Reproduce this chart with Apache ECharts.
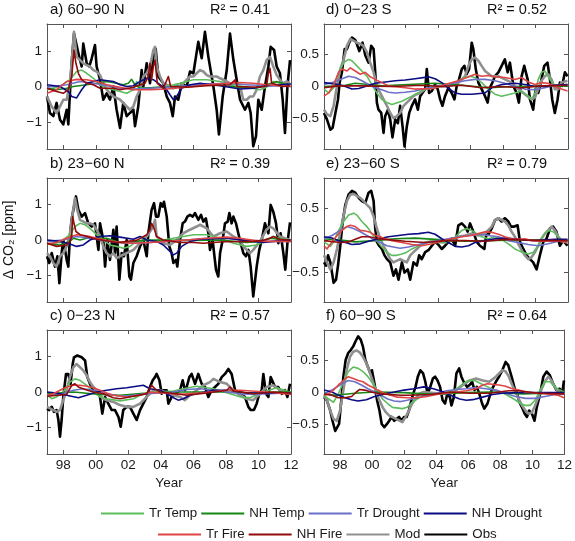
<!DOCTYPE html>
<html><head><meta charset="utf-8">
<script src="https://cdn.jsdelivr.net/npm/echarts@6.0.0/dist/echarts.min.js"></script>
<style>html,body{margin:0;padding:0;background:#fff}#c{width:575px;height:541px}</style>
</head><body><div id="c"></div>
<script>
// ---------- labels ----------
const seriesNames = ['Tr Temp','NH Temp','Tr Drought','NH Drought','Tr Fire','NH Fire','Mod','Obs'];
const panelTitles = ['a) 60\u221290 N','b) 23\u221260 N','c) 0\u221223 N','d) 0\u221223 S','e) 23\u221260 S','f) 60\u221290 S'];
const panelR2 = ['0.41','0.39','0.57','0.52','0.79','0.64'];
const xTicks = [1998,2000,2002,2004,2006,2008,2010,2012];
const leftYTicks = [-1,0,1];
const rightYTicks = [-0.5,0,0.5];

// ---------- panel a) 60-90 N ----------
const aObs = [[1997,-0.28],[1997.18,-0.74],[1997.39,-0.83],[1997.59,-0.46],[1997.8,-0.93],[1998,-1.06],[1998.21,-0.65],[1998.31,-1.06],[1998.41,-0.19],[1998.52,0.69],[1998.66,1.48],[1998.93,0.93],[1999.13,0.56],[1999.23,1.2],[1999.44,0.65],[1999.6,0.56],[1999.75,0.79],[1999.95,1.16],[2000.05,0.56],[2000.26,0.19],[2000.46,-0.37],[2000.67,-0.19],[2000.87,-0.37],[2001.08,0],[2001.28,-0.65],[2001.49,-1.16],[2001.69,-0.46],[2001.9,-0.83],[2002.1,-0.74],[2002.31,-0.65],[2002.41,-1.11],[2002.61,-0.56],[2002.82,0.46],[2002.92,0],[2003.13,0.65],[2003.33,0.09],[2003.54,0.83],[2003.68,1.06],[2003.84,0.28],[2004.15,0.09],[2004.36,-0.28],[2004.56,-0.46],[2004.73,-0.83],[2004.87,-0.28],[2005.07,-0.37],[2005.28,0.09],[2005.59,0],[2005.79,0.42],[2006,0.37],[2006.3,1.25],[2006.51,0.79],[2006.71,1.53],[2006.92,0.83],[2007.23,0],[2007.43,-0.65],[2007.57,-1.34],[2007.8,-0.28],[2008.05,0.46],[2008.25,1.48],[2008.46,0.74],[2008.66,0.19],[2008.87,-0.37],[2009.17,-0.65],[2009.38,-0.46],[2009.52,-0.74],[2009.68,-1.67],[2009.85,-1.39],[2009.99,-0.37],[2010.2,-0.65],[2010.4,0],[2010.61,0.56],[2010.75,1.11],[2010.96,1.02],[2011.12,0.56],[2011.32,0.37],[2011.49,-0.37],[2011.63,-1.3],[2011.78,0],[2011.94,0.74]];
const aMod = [[1997,-0.28],[1997.29,-0.56],[1997.59,-0.74],[1997.8,-0.56],[1998,-0.37],[1998.21,-0.37],[1998.41,0.09],[1998.58,1.02],[1998.66,1.53],[1998.82,0.83],[1999.03,0.74],[1999.23,0.65],[1999.44,0.6],[1999.64,0.56],[1999.85,0.46],[2000.05,0.42],[2000.26,0.32],[2000.46,0.09],[2000.67,-0.09],[2000.87,-0.19],[2001.08,-0.28],[2001.28,-0.32],[2001.49,-0.37],[2001.69,-0.46],[2001.9,-0.56],[2002.1,-0.65],[2002.31,-0.56],[2002.51,-0.28],[2002.72,-0.09],[2002.92,0.28],[2003.13,0.37],[2003.33,0.56],[2003.54,1.02],[2003.64,1.11],[2003.74,0.56],[2003.95,0.28],[2004.15,0.09],[2004.36,0.05],[2004.56,0],[2004.77,-0.05],[2004.97,0.05],[2005.18,0],[2005.38,0.09],[2005.59,0.19],[2005.79,0.28],[2006,0.28],[2006.2,0.37],[2006.41,0.46],[2006.61,0.42],[2006.82,0.32],[2007.02,0.28],[2007.43,0.28],[2007.64,0.23],[2007.84,0.19],[2008.05,0.14],[2008.25,0.09],[2008.46,0],[2008.87,0],[2009.07,-0.37],[2009.27,-0.37],[2009.48,-0.28],[2009.68,-0.28],[2009.89,-0.09],[2010.09,0.28],[2010.3,0.46],[2010.5,0.74],[2010.71,0.83],[2010.91,0.56],[2011.12,0.32],[2011.32,0.19],[2011.53,0.09],[2011.73,0.14],[2011.94,0.09]];
const aTrTemp = [[1997,-0.09],[1997.8,0],[1998.41,0.19],[1998.82,0.42],[1999.13,0.46],[1999.44,0.37],[1999.85,0.23],[2000.26,0.05],[2000.67,-0.05],[2001.08,-0.09],[2001.49,-0.14],[2001.9,-0.19],[2002.31,-0.09],[2002.51,0.14],[2002.72,-0.05],[2003.13,-0.05],[2003.74,-0.02],[2004.36,0],[2005.18,0.09],[2006,0.19],[2006.82,0.19],[2007.64,0.14],[2008.46,0.05],[2009.27,-0.02],[2010.09,-0.09],[2010.5,-0.02],[2010.91,0.14],[2011.32,0.09],[2011.94,0.02]];
const aNhTemp = [[1997,-0.05],[1997.59,-0.09],[1998.21,-0.05],[1998.62,0],[1999.44,0.05],[2000.05,0.09],[2000.67,0.14],[2001.28,0.09],[2001.69,0.05],[2002,0.09],[2002.2,0.2],[2002.41,0.05],[2002.72,-0.05],[2003.95,-0.02],[2005.59,0.02],[2007.23,0.05],[2008.87,-0.02],[2009.68,-0.05],[2010.5,0.05],[2011.12,0.14],[2011.94,0.02]];
const aTrDrought = [[1997,-0.02],[1998.21,0.05],[1999.03,0.14],[1999.85,0.09],[2000.67,0.02],[2001.49,-0.05],[2002.31,-0.07],[2003.33,-0.05],[2004.36,-0.02],[2005.59,0.02],[2006.82,0.07],[2008.05,0.09],[2009.27,0.05],[2010.5,0.02],[2012,0]];
const aNhDrought = [[1997,0.05],[1997.8,0],[1998.31,-0.14],[1998.52,-0.28],[1998.82,-0.32],[1999.13,-0.09],[1999.44,0.09],[2000.26,0.19],[2001.08,0.14],[2001.49,0.05],[2001.9,0],[2002.31,0.02],[2002.72,0.14],[2003.13,0.23],[2003.54,0.19],[2003.95,0.05],[2004.36,-0.09],[2004.56,-0.23],[2004.77,-0.37],[2004.97,-0.28],[2005.28,-0.05],[2005.79,0.05],[2006.41,0.09],[2007.64,0.02],[2008.87,-0.07],[2009.68,-0.05],[2010.5,0.02],[2012,0.07]];
const aTrFire = [[1997,-0.19],[1997.59,-0.09],[1998.21,0.14],[1998.82,0.2],[1999.44,0.19],[2000.05,0.14],[2000.67,0.05],[2001.49,-0.02],[2002.31,-0.09],[2003.33,-0.09],[2004.36,-0.07],[2005.59,-0.02],[2006.82,0.05],[2008.05,0.09],[2008.87,0.11],[2009.68,0.09],[2010.5,0.05],[2011.32,0.02],[2012,0]];
const aNhFire = [[1997,-0.05],[1997.59,-0.14],[1998,-0.19],[1998.31,-0.09],[1998.52,0.28],[1998.66,1.02],[1998.78,0.65],[1998.93,0.37],[1999.13,0.19],[1999.44,0.09],[1999.85,0.05],[2000.26,-0.05],[2001.08,-0.05],[2001.49,-0.09],[2002.31,-0.02],[2003.02,0.09],[2003.23,0.28],[2003.33,0.65],[2003.43,0.19],[2003.54,0.56],[2003.64,0.74],[2003.78,0.09],[2004.15,-0.05],[2004.46,0.28],[2004.6,0],[2005.59,-0.02],[2006.82,0.02],[2008.25,0.05],[2008.56,0.19],[2008.7,0],[2010.09,-0.02],[2010.5,0.02],[2010.61,0.37],[2010.71,0.51],[2010.81,0.09],[2011.53,0],[2011.94,0.02]];

// ---------- panel b) 23-60 N ----------
const bObs = [[1997,-0.46],[1997.14,-0.65],[1997.29,-0.37],[1997.49,-0.75],[1997.64,-0.46],[1997.76,-1.22],[1997.9,-0.37],[1998,0],[1998.11,-0.28],[1998.21,-0.56],[1998.31,-0.75],[1998.41,0.1],[1998.52,0.61],[1998.66,0.94],[1998.78,1.23],[1998.93,0.85],[1999.13,0.66],[1999.34,0.76],[1999.54,0.47],[1999.75,0.38],[1999.95,0.47],[2000.16,-0.28],[2000.26,0.47],[2000.46,0],[2000.57,-0.75],[2000.71,0],[2000.87,-0.56],[2001.08,0.29],[2001.18,-0.37],[2001.28,0.38],[2001.45,-1.12],[2001.59,-0.37],[2001.73,-0.46],[2001.9,0],[2002.06,-1.03],[2002.16,-1.12],[2002.31,-0.65],[2002.51,-0.46],[2002.72,-0.18],[2002.92,0],[2003.13,-0.46],[2003.23,0.19],[2003.43,0.85],[2003.58,1.04],[2003.7,0.66],[2003.84,0.66],[2003.99,1.04],[2004.11,0.94],[2004.19,1.08],[2004.36,0.66],[2004.52,-0.18],[2004.66,-0.37],[2004.77,-0.65],[2004.93,-0.56],[2005.01,-0.75],[2005.18,0],[2005.34,0.47],[2005.48,0.52],[2005.63,0.66],[2005.79,0.71],[2005.96,0.66],[2006.1,0.76],[2006.3,0.57],[2006.47,0.71],[2006.61,0.52],[2006.77,0.61],[2006.92,0.19],[2007.02,-0.28],[2007.18,0],[2007.39,-0.84],[2007.53,-1.03],[2007.64,-0.37],[2007.8,0],[2007.94,0.47],[2008.11,0.52],[2008.21,0.76],[2008.35,0.47],[2008.46,0.66],[2008.62,0.47],[2008.76,0.19],[2008.91,-0.09],[2009.07,-0.37],[2009.23,-0.46],[2009.38,-0.28],[2009.52,-0.75],[2009.68,-1.59],[2009.79,-1.59],[2009.89,-0.75],[2010.05,-0.28],[2010.2,0],[2010.4,0.47],[2010.61,0.19],[2010.75,0.99],[2010.91,0.8],[2011.08,0.47],[2011.22,-0.09],[2011.36,0.19],[2011.53,-0.37],[2011.65,-0.84],[2011.78,-0.09],[2011.94,0.5]];
const bMod = [[1997,-0.37],[1997.18,-0.46],[1997.39,-0.65],[1997.59,-0.75],[1997.8,-0.46],[1998,-0.37],[1998.21,-0.18],[1998.41,0.19],[1998.58,0.76],[1998.72,1.18],[1998.86,0.85],[1999.03,0.57],[1999.23,0.52],[1999.44,0.47],[1999.64,0.47],[1999.85,0.43],[2000.05,0.29],[2000.26,0.1],[2000.46,-0.18],[2000.67,-0.37],[2000.87,-0.46],[2001.08,-0.37],[2001.28,-0.51],[2001.49,-0.46],[2001.9,-0.37],[2002.31,-0.28],[2002.72,-0.09],[2003.13,0.1],[2003.54,0.38],[2003.64,0.57],[2003.74,0.1],[2004.15,-0.09],[2004.56,-0.14],[2004.97,0],[2005.38,0.19],[2005.79,0.29],[2006.2,0.38],[2006.41,0.43],[2006.82,0.33],[2007.23,0.1],[2007.64,0.19],[2008.05,0.24],[2008.46,0.1],[2008.87,0],[2009.07,-0.18],[2009.27,-0.28],[2009.48,-0.37],[2009.68,-0.28],[2010.09,-0.04],[2010.5,0.29],[2010.71,0.38],[2010.91,0.33],[2011.32,0.1],[2011.94,0]];
const bTrTemp = [[1997,-0.11],[1997.8,-0.07],[1998.41,0.15],[1998.72,0.38],[1999.03,0.47],[1999.34,0.43],[1999.64,0.33],[2000.05,0.15],[2000.46,0],[2000.87,-0.14],[2001.28,-0.18],[2001.69,-0.23],[2002.1,-0.18],[2002.51,-0.04],[2002.92,0],[2004.15,0],[2004.77,0.05],[2005.38,0.1],[2006,0.15],[2006.82,0.15],[2007.64,0.05],[2008.46,-0.09],[2009.27,-0.18],[2009.89,-0.14],[2010.5,0],[2010.91,0.1],[2011.32,0.05],[2011.94,0]];
const bNhTemp = [[1997,-0.11],[1997.8,-0.14],[1998.41,-0.04],[1998.62,0.05],[1999.03,0],[1999.44,0.05],[2000.67,0.05],[2001.28,-0.04],[2001.69,-0.09],[2002.92,-0.01],[2004.36,-0.01],[2006,-0.01],[2007.64,0],[2009.27,-0.07],[2010.09,-0.04],[2010.71,0.05],[2011.94,-0.01]];
const bTrDrought = [[1997,-0.04],[1998,0],[1998.82,0.1],[1999.64,0.05],[2000.46,-0.01],[2001.28,-0.07],[2002.31,-0.09],[2003.33,-0.07],[2004.36,-0.04],[2005.59,0],[2006.82,0.05],[2008.05,0.05],[2009.27,0],[2010.5,-0.04],[2012,-0.04]];
const bNhDrought = [[1997,0],[1997.8,-0.04],[1998.41,-0.11],[1998.82,-0.18],[1999.23,-0.14],[1999.64,0],[2000.26,0.1],[2000.87,0.12],[2001.49,0.08],[2002.31,0.02],[2002.72,0.1],[2003.13,0],[2003.74,-0.04],[2004.15,-0.14],[2004.56,-0.32],[2004.77,-0.42],[2004.97,-0.37],[2005.28,-0.18],[2005.79,-0.04],[2006.41,0.02],[2008.05,0.05],[2009.68,-0.04],[2010.3,-0.07],[2011.53,-0.01],[2012,0]];
const bTrFire = [[1997,-0.11],[1997.59,-0.07],[1998.21,0.05],[1998.82,0.15],[1999.44,0.12],[2000.05,0.05],[2000.67,-0.01],[2001.49,-0.07],[2002.31,-0.09],[2003.33,-0.07],[2004.36,-0.04],[2005.59,0],[2006.82,0.05],[2008.05,0.08],[2008.87,0.05],[2009.68,-0.01],[2010.5,-0.04],[2012,-0.04]];
const bNhFire = [[1997,-0.09],[1997.59,-0.18],[1998.21,-0.14],[1998.41,-0.04],[1998.52,0.1],[1998.58,0.66],[1998.66,0.47],[1998.78,0.24],[1999.03,0.15],[1999.44,0.1],[2000.05,0.02],[2001.28,-0.07],[2002.51,-0.01],[2003.13,0.15],[2003.33,0.29],[2003.43,0.47],[2003.58,0.33],[2003.74,0.1],[2004.15,0],[2005.18,-0.07],[2006,-0.07],[2006.61,-0.09],[2007.84,-0.05],[2009.68,-0.04],[2010.3,-0.01],[2010.71,0.05],[2010.91,0.1],[2011.32,0.02],[2011.94,-0.01]];

// ---------- panel c) 0-23 N ----------
const cObs = [[1997,-0.47],[1997.14,-0.51],[1997.29,-0.42],[1997.43,-0.56],[1997.59,-0.51],[1997.7,-0.79],[1997.8,-1.26],[1997.9,-0.79],[1998,-0.14],[1998.17,0.51],[1998.31,0.51],[1998.45,0.23],[1998.58,0.79],[1998.66,0.98],[1998.86,1.03],[1999.13,0.98],[1999.34,0.89],[1999.48,0.42],[1999.64,0.23],[1999.85,0.05],[2000.05,0.05],[2000.26,-0.14],[2000.4,-0.61],[2000.57,-0.14],[2000.77,-0.33],[2000.98,-0.51],[2001.18,-0.51],[2001.39,-0.7],[2001.53,-0.98],[2001.69,-0.51],[2001.9,-0.42],[2002.1,-0.42],[2002.31,-0.61],[2002.51,-0.79],[2002.72,-0.51],[2002.92,-0.33],[2003.13,-0.14],[2003.33,0.14],[2003.5,0.33],[2003.64,0.42],[2003.74,0.51],[2003.91,0.33],[2004.05,-0.05],[2004.15,0.05],[2004.36,0.05],[2004.46,-0.33],[2004.66,-0.14],[2004.87,-0.05],[2005.18,0.05],[2005.34,0.33],[2005.48,0.05],[2005.59,0.14],[2005.75,0.42],[2005.89,0.51],[2006.1,0.23],[2006.3,0.51],[2006.51,0.23],[2006.71,0.14],[2006.92,-0.14],[2007.12,0.05],[2007.33,0.14],[2007.53,0.23],[2007.74,0.42],[2007.94,0.51],[2008.15,0.65],[2008.35,0.51],[2008.56,0.05],[2008.76,-0.05],[2008.97,-0.09],[2009.17,-0.14],[2009.38,-0.42],[2009.52,-0.51],[2009.72,-0.51],[2009.89,-0.33],[2010.05,-0.05],[2010.2,0.05],[2010.3,0.51],[2010.46,-0.05],[2010.61,-0.14],[2010.75,0.42],[2010.87,0.47],[2011.02,0.14],[2011.22,0.14],[2011.43,-0.05],[2011.63,0.05],[2011.78,-0.14],[2011.94,0.23]];
const cMod = [[1997,-0.42],[1997.39,-0.51],[1997.59,-0.56],[1997.8,-0.51],[1998,-0.23],[1998.21,0.05],[1998.41,0.42],[1998.62,0.7],[1998.82,0.79],[1999.03,0.7],[1999.23,0.61],[1999.44,0.47],[1999.64,0.28],[1999.85,0.14],[2000.05,0.05],[2000.26,-0.09],[2000.46,-0.19],[2000.67,-0.23],[2001.08,-0.28],[2001.49,-0.37],[2001.9,-0.42],[2002.31,-0.42],[2002.72,-0.33],[2003.13,-0.14],[2003.54,0.05],[2003.95,0.05],[2004.36,-0.03],[2004.77,-0.09],[2005.18,-0.14],[2005.48,-0.23],[2005.79,-0.09],[2006.2,0.05],[2006.61,0.19],[2007.02,0.28],[2007.23,0.37],[2007.64,0.28],[2008.05,0.23],[2008.46,0.05],[2008.87,-0.09],[2009.27,-0.19],[2009.68,-0.23],[2010.09,-0.05],[2010.5,0.14],[2010.91,0.19],[2011.32,0.05],[2011.94,-0.03]];
const cTrTemp = [[1997,-0.09],[1997.29,-0.19],[1997.59,-0.14],[1998,0],[1998.41,0.28],[1998.72,0.37],[1999.03,0.33],[1999.44,0.19],[1999.85,0],[2000.26,-0.14],[2000.67,-0.19],[2001.49,-0.25],[2002.31,-0.19],[2002.72,-0.09],[2003.54,0],[2004.77,0.03],[2005.38,0.09],[2006.2,0.16],[2007.23,0.09],[2008.25,-0.05],[2009.07,-0.16],[2009.48,-0.16],[2010.3,0],[2011.12,0.12],[2011.94,0]];
const cNhTemp = [[1997,-0.05],[1998.62,0],[2000.26,-0.07],[2001.49,-0.09],[2003.13,-0.03],[2004.77,0],[2006.41,0],[2008.05,0],[2009.68,-0.03],[2011.32,0],[2012,0]];
const cTrDrought = [[1997,-0.09],[1997.8,-0.07],[1998.62,0.05],[1999.23,0.09],[1999.85,0.05],[2000.67,-0.05],[2001.49,-0.12],[2002.31,-0.09],[2003.13,-0.05],[2003.95,-0.03],[2004.77,0],[2005.59,0.07],[2006.41,0.09],[2007.23,0.05],[2008.05,0],[2008.87,-0.05],[2009.68,-0.07],[2010.5,-0.05],[2012,-0.03]];
const cNhDrought = [[1997,0],[1997.59,-0.03],[1998.21,-0.09],[1998.93,-0.16],[1999.44,-0.09],[2000.05,0],[2000.67,0.05],[2001.28,0.09],[2001.9,0.12],[2002.51,0.16],[2002.92,0.19],[2003.33,0.09],[2003.95,0.05],[2004.36,-0.05],[2004.77,-0.16],[2005.07,-0.23],[2005.38,-0.19],[2005.79,-0.09],[2006.41,-0.03],[2007.23,0.05],[2008.25,0.05],[2009.27,-0.03],[2010.5,-0.03],[2012,-0.03]];
const cTrFire = [[1997,-0.09],[1997.39,-0.05],[1997.8,0.05],[1998.21,0.14],[1998.62,0.19],[1999.03,0.19],[1999.44,0.16],[1999.85,0.12],[2000.26,0.05],[2000.67,-0.03],[2001.08,-0.09],[2001.9,-0.14],[2002.72,-0.09],[2003.33,-0.01],[2004.36,-0.03],[2004.97,-0.07],[2006.41,-0.03],[2008.05,0.05],[2008.87,0.05],[2010.5,0],[2012,-0.07]];
const cNhFire = [[1997,-0.12],[1998.21,-0.07],[1998.52,0.19],[1998.72,0.23],[1998.93,0.14],[1999.34,0.07],[1999.85,0],[2000.46,-0.05],[2001.08,-0.16],[2001.49,-0.19],[2002.31,-0.12],[2003.13,-0.05],[2003.43,0.19],[2003.64,0.09],[2003.95,0],[2004.97,-0.05],[2005.59,-0.09],[2006.82,-0.03],[2008.05,0.05],[2008.25,0.14],[2008.46,0.03],[2009.68,-0.05],[2010.91,0],[2012,-0.03]];

// ---------- panel d) 0-23 S ----------
const dObs = [[1997,-0.41],[1997.18,-0.51],[1997.39,-0.67],[1997.53,-0.64],[1997.7,-0.41],[1997.86,-0.2],[1997.96,0.06],[1998.1,0.22],[1998.27,0.58],[1998.41,0.58],[1998.55,0.68],[1998.72,0.76],[1998.92,0.72],[1999.02,0.66],[1999.17,0.55],[1999.37,0.68],[1999.54,0.48],[1999.74,0.37],[1999.9,0.63],[2000.05,0.58],[2000.15,0.22],[2000.25,-0.25],[2000.35,-0.36],[2000.52,-0.41],[2000.66,-0.72],[2000.76,-0.46],[2000.93,-0.36],[2001.07,-0.51],[2001.21,-0.79],[2001.38,-0.51],[2001.54,-0.57],[2001.68,-0.3],[2001.83,-0.62],[2001.95,-0.93],[2002.09,-0.62],[2002.24,-0.41],[2002.4,-0.3],[2002.6,-0.2],[2002.77,-0.36],[2002.91,-0.15],[2003.05,-0.1],[2003.22,-0.04],[2003.32,0.27],[2003.46,-0.1],[2003.63,-0.07],[2003.83,0.03],[2003.99,-0.04],[2004.14,-0.2],[2004.28,-0.3],[2004.44,-0.15],[2004.65,-0.02],[2004.85,-0.1],[2005.02,-0.2],[2005.16,0.01],[2005.3,0.11],[2005.47,0.27],[2005.63,0.32],[2005.77,0.19],[2005.92,0.27],[2006.08,0.68],[2006.18,0.58],[2006.33,0.27],[2006.49,0.06],[2006.69,-0.04],[2006.9,-0.15],[2007.06,-0.25],[2007.2,-0.02],[2007.35,0.06],[2007.51,0.16],[2007.72,0.22],[2007.92,0.32],[2008.12,0.42],[2008.29,0.22],[2008.43,0.37],[2008.64,0.01],[2008.84,-0.1],[2008.98,-0.25],[2009.15,0.16],[2009.31,0.32],[2009.52,0.11],[2009.66,-0.2],[2009.86,-0.36],[2010.01,-0.04],[2010.17,-0.1],[2010.33,0.06],[2010.54,0.32],[2010.74,0.37],[2010.89,0.11],[2011.03,-0.2],[2011.19,-0.41],[2011.36,-0.2],[2011.5,0.06],[2011.64,0.01],[2011.81,0.22],[2011.97,0.16]];
const dMod = [[1997,-0.36],[1997.18,-0.43],[1997.39,-0.46],[1997.59,-0.3],[1997.8,0.01],[1998,0.27],[1998.21,0.42],[1998.41,0.63],[1998.62,0.74],[1998.82,0.71],[1999.02,0.68],[1999.23,0.66],[1999.43,0.63],[1999.64,0.53],[1999.84,0.37],[2000.05,0.22],[2000.25,0.01],[2000.46,-0.1],[2000.66,-0.2],[2000.87,-0.3],[2001.07,-0.41],[2001.27,-0.49],[2001.48,-0.46],[2001.68,-0.41],[2001.89,-0.3],[2002.09,-0.25],[2002.3,-0.2],[2002.5,-0.15],[2002.71,-0.12],[2002.91,-0.1],[2003.22,-0.04],[2003.63,-0.02],[2004.03,0],[2004.44,0],[2004.85,0.02],[2005.26,0.06],[2005.47,0.11],[2005.67,0.16],[2005.88,0.32],[2006.08,0.42],[2006.28,0.45],[2006.49,0.4],[2006.69,0.32],[2006.9,0.24],[2007.31,0.16],[2007.72,0.16],[2008.12,0.11],[2008.53,0.06],[2008.94,-0.04],[2009.35,-0.12],[2009.76,-0.2],[2009.97,-0.17],[2010.17,-0.04],[2010.37,0.09],[2010.58,0.16],[2010.78,0.19],[2010.99,0.11],[2011.19,-0.04],[2011.4,-0.04],[2011.6,0.06],[2011.97,0.09]];
const dTrTemp = [[1997,-0.04],[1997.29,-0.1],[1997.59,-0.02],[1997.9,0.22],[1998.21,0.37],[1998.51,0.42],[1998.72,0.4],[1999.02,0.32],[1999.33,0.24],[1999.64,0.16],[1999.94,0.03],[2000.25,-0.1],[2000.56,-0.2],[2000.87,-0.25],[2001.17,-0.28],[2001.79,-0.23],[2002.4,-0.15],[2003.22,-0.04],[2004.03,0.01],[2004.85,0.02],[2005.26,0.09],[2005.67,0.14],[2005.98,0.16],[2006.28,0.14],[2006.69,0.06],[2007.1,-0.04],[2007.51,-0.12],[2007.92,-0.15],[2008.74,-0.1],[2009.15,-0.07],[2009.56,-0.15],[2009.76,-0.2],[2009.97,-0.1],[2010.17,0.11],[2010.37,0.22],[2010.58,0.24],[2010.89,0.11],[2011.19,0.01],[2011.97,0.03]];
const dNhTemp = [[1997,0],[1998.31,0.02],[1998.92,0.05],[1999.74,0.03],[2000.56,0.01],[2002.19,0.03],[2003.83,0.05],[2005.47,0.02],[2007.1,-0.02],[2008.74,0],[2011.19,0.01],[2011.97,0.01]];
const dTrDrought = [[1997,0.03],[1997.49,0.06],[1998,0.11],[1998.51,0.16],[1998.92,0.14],[1999.33,0.09],[1999.74,0.03],[2000.15,-0.02],[2000.56,-0.05],[2000.97,-0.09],[2001.38,-0.1],[2001.99,-0.09],[2002.6,-0.07],[2003.22,-0.03],[2003.83,0],[2004.44,0.02],[2005.06,0.06],[2005.67,0.09],[2006.28,0.11],[2006.9,0.11],[2007.51,0.09],[2008.12,0.05],[2008.74,0],[2009.35,-0.04],[2009.97,-0.05],[2010.58,-0.02],[2011.19,0.02],[2011.97,0.03]];
const dNhDrought = [[1997,0.06],[1997.9,0.03],[1998.31,0],[1998.72,-0.04],[1999.13,-0.03],[1999.54,0],[2000.15,0.05],[2000.76,0.07],[2001.38,0.09],[2001.99,0.1],[2002.6,0.12],[2003.42,0.15],[2003.83,0.12],[2004.24,0.06],[2004.65,-0.03],[2005.06,-0.1],[2005.47,-0.12],[2006.08,-0.12],[2006.9,-0.1],[2007.31,-0.02],[2007.92,0.03],[2008.74,0.05],[2009.35,0.03],[2009.97,0],[2010.58,0],[2011.19,0.02],[2011.97,0.03]];
const dTrFire = [[1997,-0.15],[1997.29,-0.1],[1997.59,0.03],[1997.9,0.22],[1998.1,0.27],[1998.41,0.24],[1998.62,0.29],[1998.92,0.24],[1999.23,0.19],[1999.54,0.22],[1999.84,0.15],[2000.15,0.11],[2000.56,0.06],[2000.97,0.01],[2001.99,-0.02],[2002.6,-0.04],[2003.73,-0.03],[2004.44,0.03],[2005.26,0.09],[2005.98,0.16],[2006.28,0.19],[2006.69,0.16],[2007.1,0.17],[2007.51,0.15],[2008.12,0.14],[2008.74,0.11],[2009.15,0.14],[2009.56,0.07],[2009.97,0.03],[2010.37,0.06],[2010.78,0.05],[2011.19,0],[2011.6,-0.04],[2011.97,-0.07]];
const dNhFire = [[1997,-0.02],[1997.9,0.01],[1999.33,0.01],[2001.17,0],[2003.01,0.02],[2004.24,0],[2005.47,0.02],[2006.69,-0.02],[2007.92,0],[2009.15,-0.02],[2010.37,0.01],[2011.97,0.02]];

// ---------- panel e) 23-60 S ----------
const eObs = [[1997,-0.35],[1997.12,-0.4],[1997.25,-0.24],[1997.39,-0.35],[1997.59,-0.67],[1997.74,-0.62],[1997.86,-0.4],[1998,-0.09],[1998.15,0.29],[1998.31,0.55],[1998.51,0.71],[1998.72,0.77],[1998.92,0.74],[1999.13,0.66],[1999.33,0.61],[1999.54,0.58],[1999.74,0.74],[1999.9,0.77],[2000.05,0.61],[2000.15,0.18],[2000.25,-0.03],[2000.39,-0.09],[2000.56,-0.14],[2000.72,-0.24],[2000.87,-0.3],[2001.07,-0.35],[2001.27,-0.56],[2001.42,-0.46],[2001.58,-0.62],[2001.79,-0.35],[2001.95,-0.51],[2002.15,-0.46],[2002.3,-0.62],[2002.5,-0.35],[2002.71,-0.4],[2002.85,-0.24],[2003.01,-0.3],[2003.22,-0.19],[2003.42,-0.16],[2003.63,-0.09],[2003.83,-0.03],[2003.99,-0.06],[2004.24,-0.14],[2004.44,-0.09],[2004.65,-0.03],[2004.85,0.02],[2005.06,-0.09],[2005.26,0.23],[2005.47,0.26],[2005.67,0.21],[2005.83,0.13],[2005.98,0.26],[2006.18,0.13],[2006.39,-0.03],[2006.59,-0.09],[2006.86,-0.14],[2007,0.13],[2007.14,0.1],[2007.31,0.18],[2007.51,0.31],[2007.72,0.34],[2007.92,0.29],[2008.12,0.34],[2008.33,0.29],[2008.49,0.21],[2008.7,0.21],[2008.9,0.23],[2009.05,-0.03],[2009.25,-0.14],[2009.45,-0.24],[2009.66,-0.3],[2009.86,-0.35],[2010.07,-0.46],[2010.27,-0.24],[2010.48,-0.03],[2010.68,0.02],[2010.89,0.18],[2011.09,0.21],[2011.29,0.13],[2011.5,-0.09],[2011.7,-0.01],[2011.97,-0.09]];
const eMod = [[1997,-0.24],[1997.18,-0.35],[1997.39,-0.46],[1997.59,-0.35],[1997.8,-0.14],[1998,0.13],[1998.21,0.39],[1998.41,0.61],[1998.62,0.71],[1998.82,0.72],[1999.02,0.69],[1999.23,0.66],[1999.43,0.61],[1999.64,0.55],[1999.84,0.5],[2000.05,0.37],[2000.25,0.18],[2000.46,0.02],[2000.66,-0.09],[2000.87,-0.19],[2001.07,-0.3],[2001.27,-0.35],[2001.68,-0.3],[2002.09,-0.35],[2002.3,-0.24],[2002.5,-0.19],[2002.71,-0.14],[2002.91,-0.09],[2003.22,-0.04],[2003.63,-0.02],[2004.03,-0.03],[2004.44,-0.04],[2004.85,-0.01],[2005.26,0.05],[2005.67,0.07],[2006.08,0.1],[2006.49,0.07],[2006.9,0.1],[2007.31,0.21],[2007.51,0.31],[2007.72,0.34],[2008.12,0.29],[2008.33,0.23],[2008.53,0.13],[2008.74,0.05],[2008.94,-0.06],[2009.15,-0.16],[2009.35,-0.24],[2009.56,-0.3],[2009.76,-0.27],[2009.97,-0.19],[2010.17,-0.09],[2010.37,0.02],[2010.58,0.1],[2010.78,0.15],[2010.99,0.21],[2011.19,0.15],[2011.4,0.05],[2011.6,-0.02],[2011.97,-0.04]];
const eTrTemp = [[1997,-0.03],[1997.18,-0.06],[1997.39,-0.1],[1997.59,-0.03],[1997.9,0.15],[1998.21,0.29],[1998.51,0.39],[1998.82,0.42],[1999.02,0.39],[1999.33,0.29],[1999.64,0.21],[1999.94,0.1],[2000.25,-0.01],[2000.56,-0.11],[2000.87,-0.19],[2001.17,-0.24],[2001.48,-0.24],[2001.79,-0.22],[2002.09,-0.19],[2002.4,-0.14],[2002.81,-0.09],[2003.22,-0.04],[2003.63,-0.02],[2004.03,-0.04],[2004.44,-0.04],[2004.85,-0.01],[2005.16,0.07],[2005.47,0.15],[2005.77,0.18],[2006.08,0.15],[2006.39,0.1],[2006.69,0.05],[2007.1,0.02],[2007.51,0.05],[2007.92,0.01],[2008.33,-0.06],[2008.74,-0.14],[2009.15,-0.19],[2009.56,-0.22],[2009.86,-0.19],[2010.17,-0.09],[2010.48,0.07],[2010.78,0.15],[2011.09,0.13],[2011.4,0.05],[2011.7,-0.01],[2011.97,-0.02]];
const eNhTemp = [[1997,0.02],[1998.31,-0.01],[1998.92,-0.03],[2000.15,-0.01],[2001.38,0.02],[2002.6,0.03],[2003.83,0.01],[2005.67,-0.02],[2006.9,-0.01],[2008.94,0],[2011.97,0]];
const eTrDrought = [[1997,0.02],[1997.49,0.07],[1998,0.15],[1998.41,0.21],[1998.82,0.18],[1999.23,0.13],[1999.64,0.07],[2000.05,0.01],[2000.46,-0.04],[2000.87,-0.09],[2001.27,-0.11],[2001.68,-0.13],[2002.19,-0.11],[2002.81,-0.07],[2003.42,-0.04],[2004.03,-0.01],[2004.65,0.02],[2005.26,0.05],[2005.88,0.07],[2006.49,0.09],[2007.1,0.07],[2007.72,0.05],[2008.33,-0.01],[2008.94,-0.04],[2009.56,-0.07],[2010.17,-0.09],[2010.78,-0.06],[2011.4,-0.02],[2011.97,-0.02]];
const eNhDrought = [[1997,0.05],[1997.49,0.03],[1997.9,-0.01],[1998.31,-0.04],[1998.72,-0.07],[1999.23,-0.06],[1999.74,-0.02],[2000.35,0.02],[2000.97,0.05],[2001.58,0.07],[2002.19,0.09],[2002.81,0.1],[2003.42,0.12],[2003.83,0.09],[2004.24,0.02],[2004.65,-0.04],[2005.06,-0.1],[2005.47,-0.11],[2005.88,-0.09],[2006.28,-0.04],[2006.9,-0.01],[2007.51,0.02],[2008.12,0.03],[2008.74,0.02],[2009.35,0],[2009.97,-0.01],[2011.19,0.01],[2011.97,0.01]];
const eTrFire = [[1997,-0.09],[1997.18,-0.14],[1997.49,-0.03],[1997.8,0.07],[1998.1,0.15],[1998.41,0.21],[1998.62,0.23],[1998.92,0.21],[1999.23,0.15],[1999.54,0.14],[1999.84,0.12],[2000.15,0.07],[2000.46,0.05],[2000.76,0.02],[2001.17,-0.01],[2001.79,-0.04],[2002.4,-0.07],[2003.01,-0.09],[2003.63,-0.06],[2004.24,-0.02],[2004.85,0.02],[2005.47,0.05],[2006.08,0.07],[2006.49,0.1],[2006.9,0.13],[2007.31,0.12],[2007.72,0.09],[2008.12,0.05],[2008.53,0.02],[2008.94,0.01],[2009.35,0.02],[2009.76,-0.01],[2010.37,-0.02],[2010.99,-0.01],[2011.6,-0.02],[2011.97,-0.04]];
const eNhFire = [[1997,-0.01],[1998,-0.04],[1998.51,-0.03],[1998.92,0.01],[1999.33,0.05],[1999.74,0.05],[2000.15,0.03],[2000.76,0.01],[2001.99,-0.02],[2003.22,-0.04],[2004.44,-0.01],[2005.67,-0.01],[2006.9,-0.02],[2008.12,0.01],[2009.35,0],[2010.58,-0.01],[2011.97,-0.01]];

// ---------- panel f) 60-90 S ----------
const fObs = [[1997,-0.08],[1997.18,-0.13],[1997.39,-0.29],[1997.53,-0.45],[1997.7,-0.61],[1997.8,-0.63],[1997.94,-0.5],[1998.06,-0.18],[1998.21,0.24],[1998.35,0.5],[1998.51,0.61],[1998.68,0.66],[1998.82,0.71],[1998.96,0.79],[1999.13,0.87],[1999.29,0.82],[1999.43,0.71],[1999.58,0.5],[1999.74,0.39],[1999.9,0.29],[1999.99,0.34],[2000.15,0.13],[2000.31,-0.13],[2000.46,-0.29],[2000.6,-0.5],[2000.76,-0.55],[2000.93,-0.5],[2001.07,-0.45],[2001.21,-0.39],[2001.38,-0.45],[2001.54,-0.42],[2001.68,-0.39],[2001.83,-0.45],[2001.99,-0.39],[2002.15,-0.39],[2002.3,-0.29],[2002.4,-0.18],[2002.56,-0.03],[2002.71,0.08],[2002.85,0.24],[2003.01,0.34],[2003.18,0.29],[2003.32,0.16],[2003.46,-0.03],[2003.63,0.08],[2003.79,0.21],[2003.93,0.24],[2004.08,0.18],[2004.24,0.08],[2004.4,-0.13],[2004.55,-0.18],[2004.69,-0.03],[2004.85,-0.08],[2004.95,-0.21],[2005.1,-0.08],[2005.26,0.29],[2005.43,0.37],[2005.57,0.24],[2005.71,0.16],[2005.92,0.08],[2006.08,0.11],[2006.24,0.16],[2006.39,0.03],[2006.53,0.08],[2006.69,-0.03],[2006.86,-0.18],[2007,-0.26],[2007.2,-0.18],[2007.41,0],[2007.55,0.08],[2007.72,0.16],[2007.92,0.24],[2008.12,0.34],[2008.33,0.47],[2008.49,0.42],[2008.7,0.24],[2008.9,0.05],[2009.05,-0.03],[2009.19,-0.16],[2009.35,-0.24],[2009.52,-0.34],[2009.66,-0.39],[2009.8,-0.29],[2009.97,-0.34],[2010.13,-0.45],[2010.27,-0.24],[2010.48,-0.03],[2010.68,0.24],[2010.89,0.32],[2011.09,0.26],[2011.29,0.13],[2011.5,0.03],[2011.7,0.05],[2011.85,-0.03],[2011.97,0.18]];
const fMod = [[1997,-0.05],[1997.18,-0.13],[1997.39,-0.29],[1997.59,-0.42],[1997.8,-0.45],[1998,-0.29],[1998.21,0.03],[1998.41,0.34],[1998.62,0.55],[1998.82,0.63],[1999.02,0.65],[1999.23,0.62],[1999.43,0.55],[1999.64,0.45],[1999.84,0.32],[2000.05,0.16],[2000.25,0],[2000.46,-0.13],[2000.66,-0.24],[2000.87,-0.32],[2001.07,-0.37],[2001.48,-0.42],[2001.89,-0.47],[2002.09,-0.39],[2002.3,-0.29],[2002.5,-0.18],[2002.71,-0.11],[2002.91,-0.03],[2003.22,0],[2004.03,-0.02],[2004.85,-0.03],[2005.26,0.03],[2005.67,0.11],[2006.08,0.18],[2006.49,0.21],[2006.9,0.18],[2007.31,0.16],[2007.72,0.24],[2008.12,0.34],[2008.33,0.32],[2008.53,0.24],[2008.74,0.11],[2008.94,0],[2009.15,-0.11],[2009.35,-0.21],[2009.56,-0.29],[2009.76,-0.34],[2009.97,-0.32],[2010.17,-0.21],[2010.37,-0.08],[2010.58,0.05],[2010.78,0.16],[2010.99,0.24],[2011.19,0.18],[2011.4,0.08],[2011.6,0],[2011.97,-0.03]];
const fTrTemp = [[1997,-0.05],[1997.29,-0.11],[1997.59,-0.16],[1997.9,-0.03],[1998.21,0.16],[1998.51,0.32],[1998.82,0.39],[1999.13,0.37],[1999.43,0.32],[1999.74,0.24],[2000.05,0.13],[2000.35,0],[2000.66,-0.11],[2000.97,-0.18],[2001.27,-0.24],[2001.89,-0.26],[2002.19,-0.24],[2002.5,-0.16],[2002.81,-0.11],[2003.22,-0.05],[2004.24,-0.02],[2004.85,0],[2005.26,0.05],[2005.67,0.13],[2005.98,0.18],[2006.39,0.18],[2006.8,0.13],[2007.2,0.08],[2007.61,0.03],[2008.02,0],[2008.43,-0.05],[2008.84,-0.11],[2009.25,-0.18],[2009.56,-0.21],[2009.86,-0.21],[2010.17,-0.13],[2010.48,0.03],[2010.78,0.16],[2011.09,0.16],[2011.4,0.08],[2011.7,0.03],[2011.97,0]];
const fNhTemp = [[1997,-0.03],[1997.7,-0.05],[1998.92,-0.02],[2000.15,0],[2001.99,-0.01],[2003.22,-0.03],[2004.44,-0.03],[2005.67,-0.01],[2007.51,0],[2009.35,-0.03],[2011.97,-0.01]];
const fTrDrought = [[1997,-0.03],[1997.49,0.03],[1998,0.11],[1998.51,0.18],[1998.92,0.16],[1999.33,0.11],[1999.74,0.05],[2000.15,0],[2000.56,-0.05],[2000.97,-0.11],[2001.38,-0.14],[2001.79,-0.15],[2002.19,-0.13],[2002.81,-0.09],[2003.42,-0.05],[2004.03,-0.02],[2004.65,0.02],[2005.26,0.04],[2005.88,0.05],[2006.49,0.07],[2007.1,0.05],[2007.72,0.03],[2008.33,-0.02],[2008.94,-0.07],[2009.56,-0.1],[2010.17,-0.1],[2010.78,-0.07],[2011.4,-0.04],[2011.97,-0.03]];
const fNhDrought = [[1997,0.03],[1997.49,0],[1997.9,-0.05],[1998.31,-0.09],[1998.72,-0.12],[1999.13,-0.14],[1999.64,-0.12],[2000.15,-0.07],[2000.76,-0.03],[2001.38,0],[2001.99,0.03],[2002.6,0.05],[2003.22,0.08],[2003.83,0.05],[2004.44,0],[2005.06,-0.07],[2005.47,-0.11],[2005.88,-0.13],[2006.28,-0.12],[2006.9,-0.08],[2007.51,-0.04],[2008.12,-0.02],[2008.94,-0.01],[2011.97,-0.01]];
const fTrFire = [[1997,-0.05],[1997.29,-0.03],[1997.59,0.03],[1997.9,0.11],[1998.21,0.18],[1998.51,0.24],[1998.82,0.21],[1999.13,0.18],[1999.43,0.16],[1999.74,0.11],[2000.05,0.07],[2000.35,0.03],[2000.76,-0.02],[2001.17,-0.05],[2001.58,-0.08],[2002.19,-0.09],[2002.81,-0.09],[2003.42,-0.07],[2004.03,-0.04],[2004.65,-0.02],[2005.26,0],[2005.88,0.02],[2006.49,0.05],[2006.9,0.11],[2007.2,0.13],[2007.51,0.12],[2007.92,0.11],[2008.33,0.09],[2008.74,0.05],[2009.15,0.03],[2009.56,0],[2010.37,-0.02],[2010.99,-0.03],[2011.6,-0.05],[2011.97,-0.09]];
const fNhFire = [[1997,-0.03],[1997.49,-0.05],[1997.9,-0.09],[1998.31,-0.09],[1998.72,-0.07],[1999.02,0],[1999.23,0.04],[1999.54,0.03],[1999.94,0],[2000.56,-0.03],[2001.79,-0.05],[2002.4,-0.05],[2003.63,-0.04],[2004.24,-0.02],[2004.85,0],[2006.08,-0.02],[2007.31,-0.02],[2007.92,0],[2008.53,0.02],[2009.15,0.02],[2010.37,-0.02],[2011.97,-0.03]];

// ---------- assemble ----------
const panelData = [
  {Obs:aObs,Mod:aMod,TrT:aTrTemp,NhT:aNhTemp,TrD:aTrDrought,NhD:aNhDrought,TrF:aTrFire,NhF:aNhFire},
  {Obs:bObs,Mod:bMod,TrT:bTrTemp,NhT:bNhTemp,TrD:bTrDrought,NhD:bNhDrought,TrF:bTrFire,NhF:bNhFire},
  {Obs:cObs,Mod:cMod,TrT:cTrTemp,NhT:cNhTemp,TrD:cTrDrought,NhD:cNhDrought,TrF:cTrFire,NhF:cNhFire},
  {Obs:dObs,Mod:dMod,TrT:dTrTemp,NhT:dNhTemp,TrD:dTrDrought,NhD:dNhDrought,TrF:dTrFire,NhF:dNhFire},
  {Obs:eObs,Mod:eMod,TrT:eTrTemp,NhT:eNhTemp,TrD:eTrDrought,NhD:eNhDrought,TrF:eTrFire,NhF:eNhFire},
  {Obs:fObs,Mod:fMod,TrT:fTrTemp,NhT:fNhTemp,TrD:fTrDrought,NhD:fNhDrought,TrF:fTrFire,NhF:fNhFire}
];

// drawing order (bottom to top) and styles
const drawOrder = [
  {key:'Obs', name:'Obs', color:'#000000', width:2.6},
  {key:'Mod', name:'Mod', color:'#8f8f8f', width:2.6},
  {key:'TrT', name:'Tr Temp', color:'#5dbd5d', width:1.6},
  {key:'NhT', name:'NH Temp', color:'#178817', width:1.6},
  {key:'TrD', name:'Tr Drought', color:'#6d70c8', width:1.6},
  {key:'NhD', name:'NH Drought', color:'#0b0b84', width:1.6},
  {key:'TrF', name:'Tr Fire', color:'#e04545', width:1.6},
  {key:'NhF', name:'NH Fire', color:'#900b0b', width:1.6}
];

const FONT = '"Liberation Sans", Arial, Helvetica, sans-serif';
const AX = '#555555';
const TXT = '#1a1a1a';
const colLeft = [47, 324];
const rowTop = [24, 178, 330];
const rowH = [125, 124, 124];
const W = 244;
const xMin = 1997, xMax = 2012;
const yLim = [1.75, 0.97];

const fmtX = v => String(Math.round(v) % 100).padStart(2, '0');
const fmtY = v => (v < 0 ? '\u2212' : '') + String(Math.abs(v));

const grids = [], xAxes = [], yAxes = [], series = [], graphics = [];
panelData.forEach((pd, i) => {
  const col = Math.floor(i / 3), row = i % 3;
  grids.push({left: colLeft[col], top: rowTop[row], width: W, height: rowH[row], show: false});
  const lim = yLim[col];
  const yt = col === 0 ? leftYTicks : rightYTicks;
  const tickBase = {show: true, inside: true, length: 4, lineStyle: {color: AX, width: 1}};
  xAxes.push({
    gridIndex: i, type: 'value', min: xMin, max: xMax, position: 'bottom',
    axisLine: {show: true, onZero: false, lineStyle: {color: AX, width: 1}},
    axisTick: Object.assign({customValues: xTicks}, tickBase),
    axisLabel: {show: row === 2, customValues: xTicks, formatter: fmtX, margin: 4, fontSize: 13.5, color: TXT, fontFamily: FONT},
    splitLine: {show: false},
    name: row === 2 ? 'Year' : '', nameLocation: 'middle', nameGap: 22,
    nameTextStyle: {fontSize: 13.5, color: TXT, fontFamily: FONT}
  });
  xAxes.push({
    gridIndex: i, type: 'value', min: xMin, max: xMax, position: 'top',
    axisLine: {show: true, onZero: false, lineStyle: {color: AX, width: 1}},
    axisTick: Object.assign({customValues: xTicks}, tickBase),
    axisLabel: {show: false}, splitLine: {show: false}
  });
  yAxes.push({
    gridIndex: i, type: 'value', min: -lim, max: lim, position: 'left',
    axisLine: {show: true, onZero: false, lineStyle: {color: AX, width: 1}},
    axisTick: Object.assign({customValues: yt}, tickBase),
    axisLabel: {show: true, customValues: yt, formatter: fmtY, margin: 5, fontSize: 13.5, color: TXT, fontFamily: FONT},
    splitLine: {show: false}
  });
  yAxes.push({
    gridIndex: i, type: 'value', min: -lim, max: lim, position: 'right',
    axisLine: {show: true, onZero: false, lineStyle: {color: AX, width: 1}},
    axisTick: Object.assign({customValues: yt}, tickBase),
    axisLabel: {show: false}, splitLine: {show: false}
  });
  drawOrder.forEach(s => {
    series.push({
      type: 'line', name: s.name, xAxisIndex: 2 * i, yAxisIndex: 2 * i,
      data: pd[s.key], showSymbol: false, symbol: 'none', color: s.color,
      lineStyle: {color: s.color, width: s.width, join: 'round'},
      silent: true, animation: false, clip: true
    });
  });
  const ty = [10, 164, 316][row];
  graphics.push({type: 'text', x: col === 0 ? 50 : 326, y: ty,
    style: {text: panelTitles[i], fontSize: 15, fontFamily: FONT, fill: '#111', textVerticalAlign: 'middle', verticalAlign: 'middle'}});
  graphics.push({type: 'text', x: col === 0 ? 210 : 487, y: ty,
    style: {text: 'R\u00b2 = ' + panelR2[i], fontSize: 14.5, fontFamily: FONT, fill: '#111', textVerticalAlign: 'middle', verticalAlign: 'middle'}});
});
graphics.push({type: 'text', x: 9, y: 240, rotation: Math.PI / 2,
  style: {text: '\u0394 CO\u2082 [ppm]', fontSize: 14, fontFamily: FONT, fill: '#111',
    textAlign: 'center', align: 'center', textVerticalAlign: 'middle', verticalAlign: 'middle'}});

const legendCommon = {orient: 'horizontal', icon: 'rect', itemWidth: 43, itemHeight: 2, itemGap: 4, padding: 0,
  selectedMode: false, textStyle: {fontSize: 13.3, fontFamily: FONT, color: TXT}};

const chart = echarts.init(document.getElementById('c'), null, {renderer: 'canvas', width: 575, height: 541});
chart.setOption({
  animation: false,
  backgroundColor: '#ffffff',
  grid: grids, xAxis: xAxes, yAxis: yAxes, series: series,
  graphic: {elements: graphics},
  legend: [
    Object.assign({data: seriesNames.slice(0, 4), left: 101, top: 507}, legendCommon),
    Object.assign({data: seriesNames.slice(4), left: 158, top: 528}, legendCommon)
  ]
});
</script>
</body></html>
